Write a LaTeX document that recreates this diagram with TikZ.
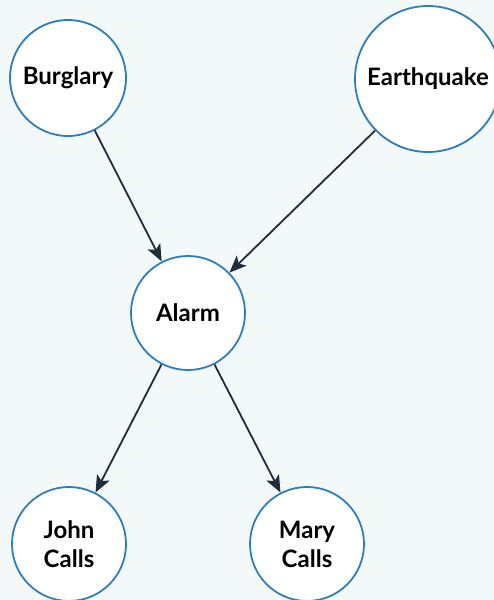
\documentclass[tikz,border=0pt]{standalone}
\usepackage{fontspec}
\setmainfont{Lato}[BoldFont={Lato Bold}]
\usetikzlibrary{arrows.meta}
\definecolor{bg}{HTML}{F3F8F9}
\definecolor{ring}{HTML}{2E7EBD}
\definecolor{edge}{HTML}{1F2D3D}
\tikzset{
  var/.style={circle, draw=ring, line width=1.8pt, fill=white, inner sep=0pt,
    font=\fontsize{24}{29}\selectfont\bfseries, align=center, text=black},
  link/.style={draw=edge, line width=1.8pt, -{Stealth[length=17pt,width=14pt,inset=4pt]}}
}
\begin{document}
\begin{tikzpicture}[x=1pt,y=-1pt]
\fill[bg] (0,0) rectangle (494,600);
\useasboundingbox (0,0) rectangle (494,600);
\node[var, minimum size=116pt] (b) at (68,78) {Burglary};
\node[var, minimum size=146pt] (e) at (428,79) {Earthquake};
\node[var, minimum size=114pt] (a) at (188,313) {Alarm};
\node[var, minimum size=114pt] (j) at (69,544) {John\\Calls};
\node[var, minimum size=114pt] (m) at (307,544) {Mary\\Calls};
\draw[link] (b) -- (a);
\draw[link] (e) -- (a);
\draw[link] (a) -- (j);
\draw[link] (a) -- (m);
\end{tikzpicture}
\end{document}
